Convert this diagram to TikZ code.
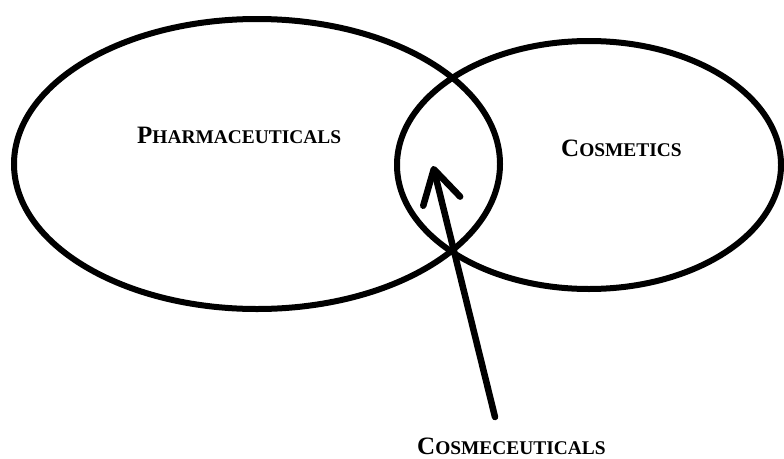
\documentclass[tikz,border=0pt]{standalone}
\usepackage{fontspec}
\setmainfont{Liberation Serif}
\usetikzlibrary{arrows.meta}
\newcommand{\bigsc}[2]{\textbf{{\fontsize{25}{25}\selectfont #1}{\fontsize{19.4}{19.4}\selectfont #2}}}

\begin{document}
\begin{tikzpicture}[x=1pt,y=-1pt]
      \useasboundingbox (0,0) rectangle (784,458);
      \draw[line width=6pt] (257,164) ellipse (243 and 145);
      \draw[line width=6pt] (589,165) ellipse (192 and 124);
      \node[anchor=base west,inner sep=0pt] (pharma) at (137,143) {\bigsc{P}{HARMACEUTICALS}};
      \node[anchor=base west,inner sep=0pt] (cosmetics) at (561,156) {\bigsc{C}{OSMETICS}};
      \node[anchor=base west,inner sep=0pt] (cosmeceu) at (417,454) {\bigsc{C}{OSMECEUTICALS}};
      \coordinate (arrowtail) at (495,417);
      \coordinate (arrowtip) at (433,166);
      \draw[line width=6.5pt, line cap=round,
            -{Straight Barb[length=33pt,width=38pt,line cap=round,line join=round]}]
            (arrowtail) -- (arrowtip);
    \end{tikzpicture}
\end{document}
